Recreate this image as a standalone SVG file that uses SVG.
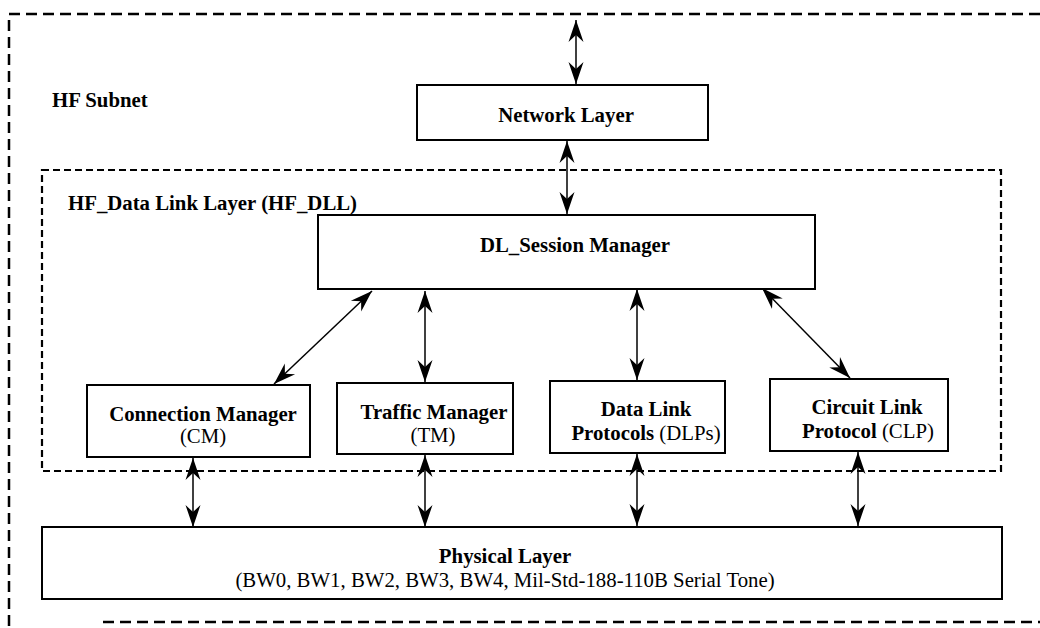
<svg xmlns="http://www.w3.org/2000/svg" width="1040" height="628" viewBox="0 0 1040 628">
<style>
.box{fill:#fff;stroke:#000;stroke-width:2}
.t{font-family:"Liberation Serif","Times New Roman",serif;font-size:20.8px;fill:#000;text-anchor:middle}
.b{font-weight:bold}
.outer{fill:none;stroke:#000;stroke-width:2.5;stroke-dasharray:11 6}
.inner{fill:none;stroke:#000;stroke-width:2.2;stroke-dasharray:7 4}
.c{fill:none;stroke:#000;stroke-width:1.5;marker-start:url(#ah);marker-end:url(#ah)}
</style>
<defs>
<marker id="ah" markerUnits="userSpaceOnUse" markerWidth="24" markerHeight="18" refX="22" refY="9" orient="auto-start-reverse">
<path d="M0,1.5 L22,9 L0,16.5 L7,9 Z" fill="#000"/>
</marker>
</defs>
<g id="hf-subnet">
<path class="outer" d="M1040,14 L9,14 L9,628"/>
<path class="outer" d="M103,622 L1040,622"/>
<text class="t b" x="52" y="107" style="text-anchor:start">HF Subnet</text>
</g>
<g id="hf-dll">
<rect class="inner" x="42" y="170" width="959" height="301"/>
<text class="t b" x="68" y="210" style="text-anchor:start">HF_Data Link Layer (HF_DLL)</text>
</g>
<g id="connectors">
<path class="c" d="M576,20 L576,84"/>
<path class="c" d="M567,141 L567,214"/>
<path class="c" d="M372,291 L274,384"/>
<path class="c" d="M425,291 L425,382"/>
<path class="c" d="M637,289 L637,380"/>
<path class="c" d="M762,288 L850,378"/>
<path class="c" d="M193,458 L193,527"/>
<path class="c" d="M425,455 L425,527"/>
<path class="c" d="M637,454 L637,526"/>
<path class="c" d="M858,452 L858,526"/>
</g>
<g id="network-layer">
<rect class="box" x="417" y="85" width="291" height="55"/>
<text class="t b" x="566" y="122">Network Layer</text>
</g>
<g id="dl-session-manager">
<rect class="box" x="318" y="215" width="497" height="74"/>
<text class="t b" x="575" y="252">DL_Session Manager</text>
</g>
<g id="connection-manager">
<rect class="box" x="87" y="385" width="223" height="72"/>
<text class="t b" x="203" y="421">Connection Manager</text>
<text class="t" x="203" y="443">(CM)</text>
</g>
<g id="traffic-manager">
<rect class="box" x="337" y="383" width="176" height="71"/>
<text class="t b" x="434" y="419">Traffic Manager</text>
<text class="t" x="433" y="442">(TM)</text>
</g>
<g id="data-link-protocols">
<rect class="box" x="550" y="381" width="175" height="72"/>
<text class="t b" x="646" y="416">Data Link</text>
<text class="t" x="646" y="440"><tspan class="b">Protocols</tspan> (DLPs)</text>
</g>
<g id="circuit-link-protocol">
<rect class="box" x="770" y="379" width="178" height="72"/>
<text class="t b" x="867" y="414">Circuit Link</text>
<text class="t" x="868" y="438"><tspan class="b">Protocol</tspan> (CLP)</text>
</g>
<g id="physical-layer">
<rect class="box" x="42" y="527" width="960" height="72"/>
<text class="t b" x="505" y="563">Physical Layer</text>
<text class="t" x="505" y="587">(BW0, BW1, BW2, BW3, BW4, Mil-Std-188-110B Serial Tone)</text>
</g>
</svg>
